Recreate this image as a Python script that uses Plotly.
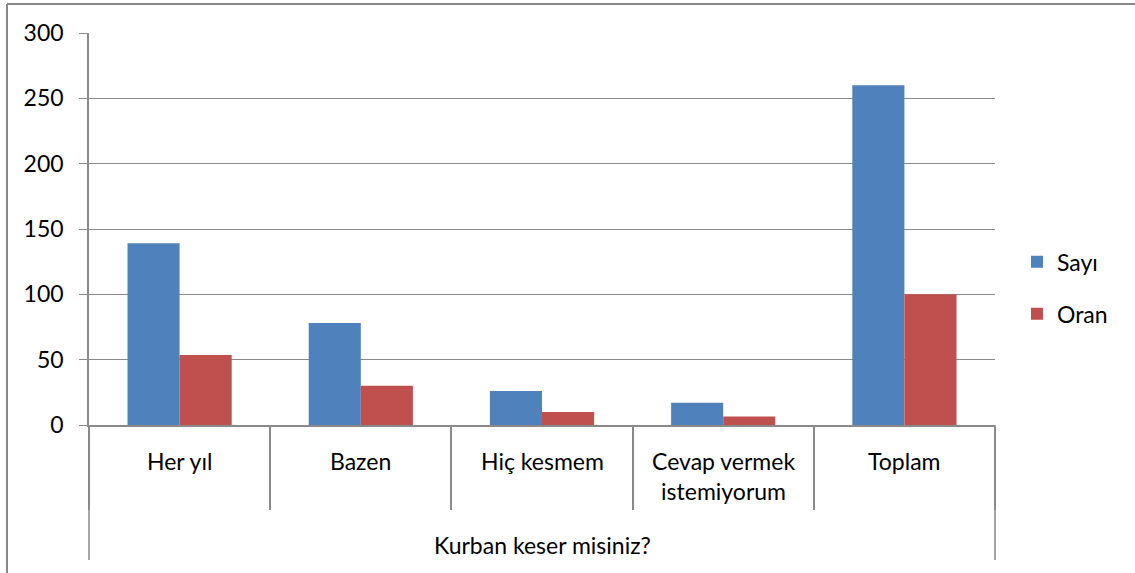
import plotly.graph_objects as go

# Survey data: "Kurban keser misiniz?"
categories = ["Her yıl", "Bazen", "Hiç kesmem", "Cevap vermek<br>istemiyorum", "Toplam"]
sayi = [139, 78, 26, 17, 260]
oran = [53.5, 30, 10, 6.5, 100]
y_ticks = [0, 50, 100, 150, 200, 250, 300]
group_title = "Kurban keser misiniz?"

FONT = "Lato"
GRID = "#8a8a8a"
W, H = 1135, 573
M_L, M_R, M_T, M_B = 89, 140, 33, 148
plot_h = H - M_T - M_B
plot_w = W - M_L - M_R

fig = go.Figure()
fig.add_trace(go.Bar(x=categories, y=sayi, name="Sayı",
                     marker=dict(color="#4F81BD", line=dict(width=0)), legendgroup="a"))
fig.add_trace(go.Bar(x=categories, y=oran, name="Oran",
                     marker=dict(color="#C0504D", line=dict(width=0)), legendgroup="b"))

fig.update_layout(
    width=W, height=H,
    margin=dict(l=M_L, r=M_R, t=M_T, b=M_B, pad=0),
    paper_bgcolor="white", plot_bgcolor="white",
    barmode="group", bargap=0.425, bargroupgap=0,
    font=dict(family=FONT, size=23, color="black"),
    legend=dict(x=(1017 - M_L) / plot_w, xanchor="left", y=0.35, yanchor="middle",
                font=dict(size=23), tracegroupgap=19, bgcolor="rgba(0,0,0,0)"),
    showlegend=True,
)

fig.update_yaxes(
    range=[0, 300], tickvals=y_ticks, showgrid=True, gridcolor=GRID, gridwidth=1.2,
    showline=True, linecolor=GRID, linewidth=1.5, ticks="outside", ticklen=8,
    tickcolor=GRID, tickwidth=1.2, ticklabelstandoff=11, zeroline=False,
)
fig.update_xaxes(
    type="category", categoryorder="array", categoryarray=categories,
    showticklabels=False, showline=True, linecolor=GRID, linewidth=1.5,
    ticks="outside", tickson="boundaries", ticklen=83, tickcolor=GRID, tickwidth=1.5,
    showgrid=False, zeroline=False,
)

# category labels under each group
for c in categories:
    fig.add_annotation(x=c, y=0, xref="x", yref="paper", text=c, showarrow=False,
                       yanchor="top", yshift=-20, font=dict(size=23), align="center")

# outer group level
fig.add_annotation(x=0.5, y=0, xref="paper", yref="paper", text=group_title,
                   showarrow=False, yanchor="middle", yshift=-120, font=dict(size=23))
low = -135 / plot_h
for xv in (0, 1):
    fig.add_shape(type="line", xref="paper", yref="paper", x0=xv, x1=xv, y0=0, y1=low,
                  line=dict(color=GRID, width=1.5))

# chart frame (top and left edges)
fx = (7 - M_L) / plot_w
fy = 1 + (M_T - 4) / plot_h
fig.add_shape(type="line", xref="paper", yref="paper", x0=fx, x1=1.2, y0=fy, y1=fy,
              line=dict(color=GRID, width=2))
fig.add_shape(type="line", xref="paper", yref="paper", x0=fx, x1=fx, y0=fy, y1=-0.5,
              line=dict(color=GRID, width=2))

fig.write_html("out.html")
